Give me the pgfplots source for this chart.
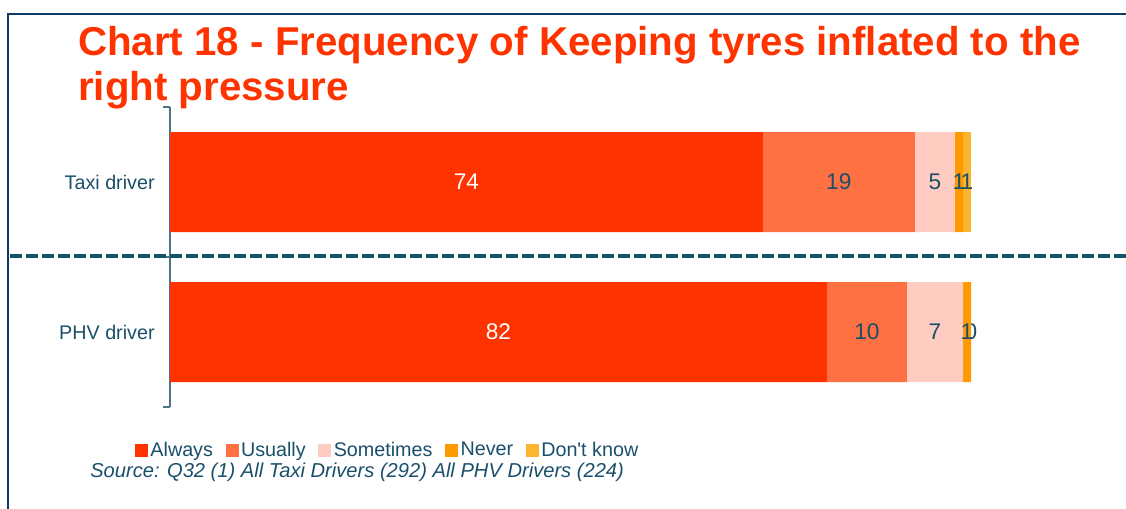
\documentclass[border=0pt]{standalone}
\usepackage{pgfplots}
\pgfplotsset{compat=1.18}
\usepackage{fontspec}
\setmainfont{Liberation Sans}

\definecolor{ttl}{HTML}{FF3300}
\definecolor{always}{HTML}{FF3300}
\definecolor{usually}{HTML}{FF7043}
\definecolor{sometimes}{HTML}{FFCCC2}
\definecolor{never}{HTML}{FF9900}
\definecolor{dontknow}{HTML}{FBB52E}
\definecolor{txt}{HTML}{1A4F6A}
\definecolor{dashcol}{HTML}{135468}
\definecolor{framecol}{HTML}{0D3A66}
\definecolor{yax}{HTML}{4C7486}

\begin{document}
\begin{tikzpicture}
\useasboundingbox (0,0) rectangle ({1126*0.75pt},{-508*0.75pt});
\begin{scope}[x=0.75pt,y=-0.75pt]
  \draw[framecol, line width=1.5pt] (8,510) -- (8,14) -- (1130,14);
  \node[anchor=base west, text=ttl, font=\fontsize{30.2}{34}\selectfont\bfseries, inner sep=0pt]
    at (78,55) {Chart 18 - Frequency of Keeping tyres inflated to the};
  \node[anchor=base west, text=ttl, font=\fontsize{30.2}{34}\selectfont\bfseries, inner sep=0pt]
    at (78,100) {right pressure};
\end{scope}

\begin{axis}[
    at={({170*0.75pt},{-407*0.75pt})}, anchor=south west,
    scale only axis,
    width={801*0.75pt}, height={300*0.75pt},
    xbar stacked,
    bar width={100*0.75pt},
    xmin=0, xmax=100,
    ymin=-0.5, ymax=1.5,
    axis x line=none,
    axis y line*=left,
    y axis line style={yax, line width=0.8pt, -},
    ytick={0,1},
    yticklabels={PHV driver, Taxi driver},
    major tick length=0pt,
    extra y ticks={-0.5,0.5,1.5},
    extra y tick labels={},
    extra y tick style={tick style={yax, line width=0.8pt}, major tick length=5.25pt, tick align=outside},
    yticklabel style={text=txt, font=\fontsize{14.8}{16}\selectfont, xshift=-8pt},
    clip=false,
    /pgf/number format/assume math mode=true,
    nodes near coords,
    every node near coord/.append style={anchor=center,
        font=\fontsize{17}{19}\selectfont, text=txt},
    legend columns=5,
    legend style={at={(-0.0441,-0.1433)}, anchor=west, draw=none, fill=none, inner sep=0pt,
        font=\fontsize{14.8}{16}\selectfont, text=txt,
        nodes={inner sep=1.9pt},
        /tikz/every even column/.append style={column sep=7.5pt}},
    legend image code/.code={\fill[#1] (0pt,-5pt) rectangle (9.75pt,4.75pt);},
]
\addplot[fill=always, draw=none, every node near coord/.append style={text=white}] coordinates {(82,0) (74,1)};
\addplot[fill=usually, draw=none] coordinates {(10,0) (19,1)};
\addplot[fill=sometimes, draw=none] coordinates {(7,0) (5,1)};
\addplot[fill=never, draw=none] coordinates {(1,0) (1,1)};
\addplot[fill=dontknow, draw=none] coordinates {(0,0) (1,1)};
\legend{Always, Usually, Sometimes, Never, Don\textquotesingle t know}
% zero-length segment: pgfplots draws no label for it
\node[text=txt, font=\fontsize{17}{19}\selectfont] at (axis cs:100,0) {0};
\end{axis}

\begin{scope}[x=0.75pt,y=-0.75pt]
  \draw[dashcol, line width=2.3pt, dash pattern=on 9pt off 3pt] (10,256) -- (1126,256);
  \node[anchor=base west, inner sep=0pt, text=txt, font=\fontsize{15.1}{17}\selectfont\itshape]
    at (90,477) {Source: Q32 (1) All Taxi Drivers (292) All PHV Drivers (224)};
\end{scope}
\end{tikzpicture}
\end{document}
